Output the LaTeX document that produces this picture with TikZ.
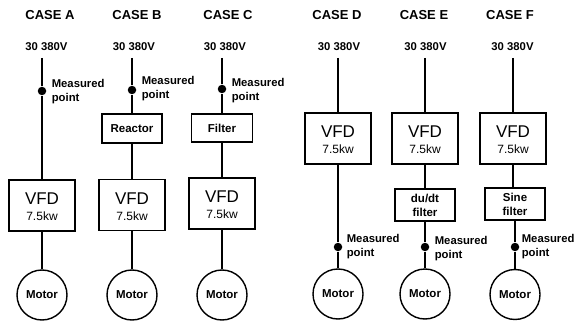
\documentclass[tikz,border=0pt]{standalone}
\usepackage{fontspec}
\setmainfont{Liberation Sans}
\usetikzlibrary{calc}
\begin{document}
\begin{tikzpicture}[x=1pt,y=-1pt,line width=1.6pt,
  casehead/.style={font=\bfseries\fontsize{13}{13}\selectfont,inner sep=0pt},
  supply/.style={font=\bfseries\fontsize{11.3}{11}\selectfont,inner sep=0pt},
  vfdbox/.style={draw,line width=1.4pt,minimum width=66pt,minimum height=51pt,inner sep=0pt},
  vfdname/.style={font=\fontsize{17}{17}\selectfont,inner sep=0pt},
  vfdrate/.style={font=\fontsize{12}{12}\selectfont,inner sep=0pt},
  smallbox/.style={draw,line width=1.4pt,minimum width=60pt,minimum height=29pt,inner sep=0pt,align=center,
    font=\bfseries\fontsize{11.5}{14}\selectfont},
  motor/.style={draw,line width=1.4pt,circle,minimum size=50pt,inner sep=0pt,font=\bfseries\fontsize{11.5}{11}\selectfont},
  mdot/.style={circle,fill,minimum size=8.5pt,inner sep=0pt},
  mlabel/.style={anchor=west,align=left,inner sep=0pt,font=\bfseries\fontsize{11.3}{14}\selectfont}
]
\useasboundingbox (0,0) rectangle (575,323);

% VFD box with its two lines of text
\newcommand{\vfdunit}[2]{%
  \node[vfdbox] (#1) at #2 {};
  \node[vfdname] at ($(#1.center)+(0,-6.5)$) {VFD};
  \node[vfdrate] at ($(#1.center)+(0,11)$) {7.5kw};
}

% ---------------- headings ----------------
\node[casehead] (hA) at (50,15)  {CASE A};
\node[casehead] (hB) at (137,15) {CASE B};
\node[casehead] (hC) at (228,15) {CASE C};
\node[casehead] (hD) at (337,15) {CASE D};
\node[casehead] (hE) at (424,15) {CASE E};
\node[casehead] (hF) at (510,15) {CASE F};

\node[supply] (sA) at (46.5,47) {30 380V};
\node[supply] (sB) at (134,47)  {30 380V};
\node[supply] (sC) at (225,47)  {30 380V};
\node[supply] (sD) at (339,47)  {30 380V};
\node[supply] (sE) at (425.5,47){30 380V};
\node[supply] (sF) at (512.5,47){30 380V};

% ---------------- case A ----------------
\coordinate (tA) at (42,58);
\node[mdot] (dA) at (42,91) {};
\node[mlabel] (lA) at (51,92) {Measured\\point};
\vfdunit{vA}{(42,205.5)}
\node[motor] (mA) at (42,295) {Motor};
\draw (tA) -- (dA) -- (vA);
\draw (vA) -- (mA);

% ---------------- case B ----------------
\coordinate (tB) at (132,58);
\node[mdot] (dB) at (132,90) {};
\node[mlabel] (lB) at (141,89) {Measured\\point};
\node[smallbox] (rB) at (132,128.5) {Reactor};
\vfdunit{vB}{(132,205)}
\node[motor] (mB) at (132,295) {Motor};
\draw (tB) -- (dB) -- (rB);
\draw (rB) -- (vB);
\draw (vB) -- (mB);

% ---------------- case C ----------------
\coordinate (tC) at (222,58);
\node[mdot] (dC) at (222,89) {};
\node[mlabel] (lC) at (231,91) {Measured\\point};
\node[smallbox,minimum width=61pt,minimum height=28pt] (fC) at (222,128) {Filter};
\vfdunit{vC}{(222,203.5)}
\node[motor] (mC) at (222,295) {Motor};
\draw (tC) -- (dC) -- (fC);
\draw (fC) -- (vC);
\draw (vC) -- (mC);

% ---------------- case D ----------------
\coordinate (tD) at (338,58);
\vfdunit{vD}{(338,138.5)}
\node[mdot] (dD) at (338,247) {};
\node[mlabel] (lD) at (346,247) {Measured\\point};
\node[motor] (mD) at (338,294) {Motor};
\draw (tD) -- (vD);
\draw (vD) -- (dD) -- (mD);

% ---------------- case E ----------------
\coordinate (tE) at (425,58);
\vfdunit{vE}{(425,138.5)}
\node[smallbox,minimum height=32pt] (fE) at (425,205) {du/dt\\filter};
\node[mdot] (dE) at (425,247) {};
\node[mlabel] (lE) at (434,249) {Measured\\point};
\node[motor] (mE) at (425,294) {Motor};
\draw (tE) -- (vE);
\draw (vE) -- (fE);
\draw (fE) -- (dE) -- (mE);

% ---------------- case F ----------------
\coordinate (tF) at (513,58);
\vfdunit{vF}{(513,138.5)}
\node[smallbox,minimum height=32pt] (fF) at (515,204) {Sine\\filter};
\node[mdot] (dF) at (515,247) {};
\node[mlabel] (lF) at (521,247) {Measured\\point};
\node[motor] (mF) at (515,294.5) {Motor};
\draw (tF) -- (vF);
\draw (vF.south) -- (vF.south |- fF.north);
\draw (fF) -- (dF) -- (mF);
\end{tikzpicture}
\end{document}
